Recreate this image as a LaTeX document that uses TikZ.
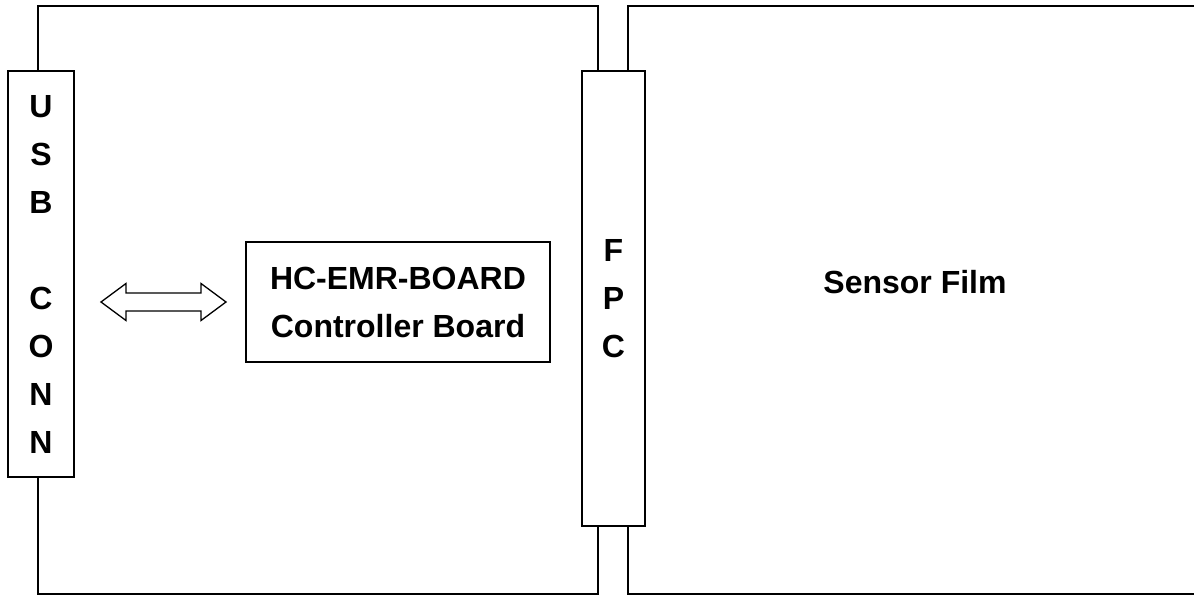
\documentclass[tikz,border=0pt]{standalone}
\usepackage{fontspec}
\setmainfont{Liberation Sans}
\usetikzlibrary{positioning,calc}
\definecolor{HwLine}{RGB}{0,0,0}
\newcommand{\hwfont}{\fontsize{32}{48}\selectfont\bfseries}
\tikzset{
  hw board/.style={draw=HwLine, line width=2pt},
  hw box/.style={
    draw=HwLine,
    line width=2pt,
    fill=white,
    align=center,
    font=\hwfont,
    inner sep=0pt
  },
  hw text/.style={align=center, font=\hwfont},
  hw link/.style={draw=HwLine, line width=1.3pt, fill=white, line join=miter}
}
\begin{document}
\begin{tikzpicture}[x=1pt, y=-1pt]
\useasboundingbox (0,0) rectangle (1194,596);
% boards
\node[hw board, minimum width=560pt, minimum height=588pt] (main) at (318,300) {};
\draw[hw board] (1194,6) -- (628,6) -- (628,594) -- (1194,594);
% connectors and parts
\node[hw box, minimum width=66pt, minimum height=406pt] (usb) at (41,274) {U\\S\\B\\[48pt]C\\O\\N\\N};
\node[hw box, minimum width=63pt, minimum height=455pt] (fpc) at (613.5,298.5) {F\\P\\C};
\node[hw box, minimum width=304pt, minimum height=120pt] (ctrl) at (398,302) {HC-EMR-BOARD\\Controller Board};
\node[hw text] (film) at (915,282) {Sensor Film};
% usb <-> controller
\coordinate (al) at ($(usb.east |- ctrl.west)+(26,0)$);
\coordinate (ar) at ($(ctrl.west)+(-19,0)$);
\draw[hw link] (al) -- ($(al)+(25,-18.5)$) -- ($(al)+(25,-9)$) -- ($(ar)+(-25,-9)$)
  -- ($(ar)+(-25,-18.5)$) -- (ar) -- ($(ar)+(-25,18.5)$) -- ($(ar)+(-25,9)$)
  -- ($(al)+(25,9)$) -- ($(al)+(25,18.5)$) -- cycle;
\end{tikzpicture}
\end{document}
